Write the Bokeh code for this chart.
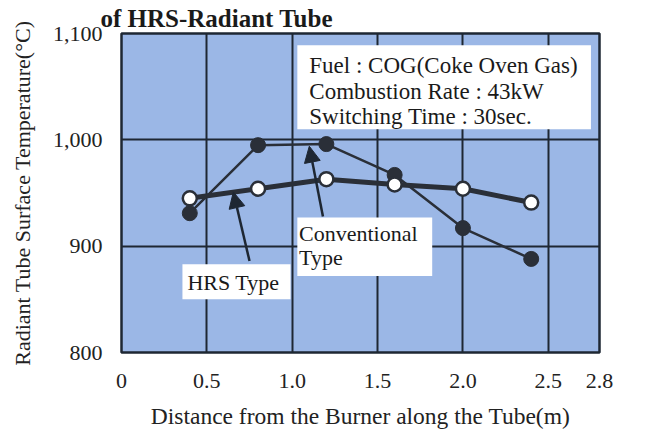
from bokeh.plotting import figure
from bokeh.models import (Label, BoxAnnotation, Arrow, NormalHead, FixedTicker)
from bokeh.embed import file_html
from bokeh.resources import INLINE

# ---- data ----
distance = [0.4, 0.8, 1.2, 1.6, 2.0, 2.4]
hrs_type = [945, 954, 963, 958, 954, 941]
conventional = [931, 995, 996, 967, 917, 888]

x_ticks = [0, 0.5, 1.0, 1.5, 2.0, 2.5, 2.8]
x_tick_labels = ["0", "0.5", "1.0", "1.5", "2.0", "2.5", "2.8"]
y_ticks = [800, 900, 1000, 1100]
y_tick_labels = ["800", "900", "1,000", "1,100"]

info_lines = ["Fuel : COG(Coke Oven Gas)", "Combustion Rate : 43kW", "Switching Time : 30sec."]

FONT = "Liberation Serif"
DARK = "#1e2733"
MARK = "#2a2f38"

p = figure(width=649, height=437, x_range=(0, 2.8), y_range=(800, 1100),
           output_backend="svg", toolbar_location=None,
           min_border_left=121, min_border_right=50, min_border_top=33, min_border_bottom=85)
p.background_fill_color = "#9bb7e6"
p.border_fill_color = "white"
p.outline_line_color = DARK
p.outline_line_width = 2.5

# title
p.title.text = "of HRS-Radiant Tube"
p.title.text_font = FONT
p.title.text_font_size = "25px"
p.title.text_font_style = "bold"
p.title.text_color = "#1a1a1a"
p.title.align = "left"
p.title.offset = -21
p.title.standoff = 3

p.xaxis.ticker = FixedTicker(ticks=x_ticks)
p.yaxis.ticker = FixedTicker(ticks=y_ticks)
p.xaxis.major_label_overrides = {t: l for t, l in zip(x_ticks, x_tick_labels)}
p.yaxis.major_label_overrides = {t: l for t, l in zip(y_ticks, y_tick_labels)}
for ax in (p.xaxis, p.yaxis):
    ax.axis_line_color = None
    ax.major_tick_line_color = None
    ax.minor_tick_line_color = None
    ax.major_label_text_font = FONT
    ax.major_label_text_font_size = "22px"
    ax.major_label_text_color = "#222222"
    ax.axis_label_text_font = FONT
    ax.axis_label_text_font_style = "normal"
    ax.axis_label_text_color = "#222222"
p.xaxis.axis_label_text_font_size = "23.5px"
p.yaxis.axis_label_text_font_size = "22px"
p.xaxis.major_label_standoff = 15
p.yaxis.major_label_standoff = 13
p.xaxis.axis_label = "Distance from the Burner along the Tube(m)"
p.yaxis.axis_label = "Radiant Tube Surface Temperature(°C)"
p.xaxis.axis_label_standoff = 12
p.yaxis.axis_label_standoff = 15

p.xgrid.ticker = FixedTicker(ticks=[0.5, 1.0, 1.5, 2.0, 2.5])
p.ygrid.ticker = FixedTicker(ticks=[900, 1000])
for g in (p.xgrid, p.ygrid):
    g.grid_line_color = DARK
    g.grid_line_width = 2
    g.grid_line_alpha = 1

# conventional type
p.line(distance, conventional, line_color=MARK, line_width=2.5)
p.scatter(distance, conventional, size=15, fill_color=MARK, line_color=MARK)
# HRS type
p.line(distance, hrs_type, line_color=MARK, line_width=5)
p.scatter(distance, hrs_type, size=14, fill_color="white", line_color=MARK, line_width=2.5)

LIFT = 6

# info box
p.add_layout(BoxAnnotation(left=1.03, right=2.75, bottom=1010, top=1089,
                           fill_color="white", fill_alpha=1, line_color=None))
for txt, yy in zip(info_lines, [1064, 1040, 1016]):
    p.add_layout(Label(x=1.1, y=yy, y_offset=LIFT, text=txt, text_font=FONT,
                       text_font_size="23px", text_color="#1a1a1a",
                       text_baseline="alphabetic"))

# annotation boxes
p.add_layout(BoxAnnotation(left=1.03, right=1.82, bottom=872, top=927,
                           fill_color="white", fill_alpha=1, line_color=None))
p.add_layout(Label(x=1.04, y=906, y_offset=LIFT, text="Conventional", text_font=FONT,
                   text_font_size="22px", text_color="#1a1a1a", text_baseline="alphabetic"))
p.add_layout(Label(x=1.04, y=884, y_offset=LIFT, text="Type", text_font=FONT,
                   text_font_size="22px", text_color="#1a1a1a", text_baseline="alphabetic"))
p.add_layout(BoxAnnotation(left=0.357, right=0.99, bottom=850, top=883,
                           fill_color="white", fill_alpha=1, line_color=None))
p.add_layout(Label(x=0.386, y=860, y_offset=LIFT, text="HRS Type", text_font=FONT,
                   text_font_size="22px", text_color="#1a1a1a", text_baseline="alphabetic"))

# arrows
p.add_layout(Arrow(end=NormalHead(size=16, fill_color=DARK, line_color=DARK),
                   x_start=1.18, y_start=928, x_end=1.1, y_end=994,
                   line_color=DARK, line_width=2.5))
p.add_layout(Arrow(end=NormalHead(size=16, fill_color=DARK, line_color=DARK),
                   x_start=0.75, y_start=886, x_end=0.655, y_end=951,
                   line_color=DARK, line_width=2.5))

open("out.html", "w").write(file_html(p, INLINE))
